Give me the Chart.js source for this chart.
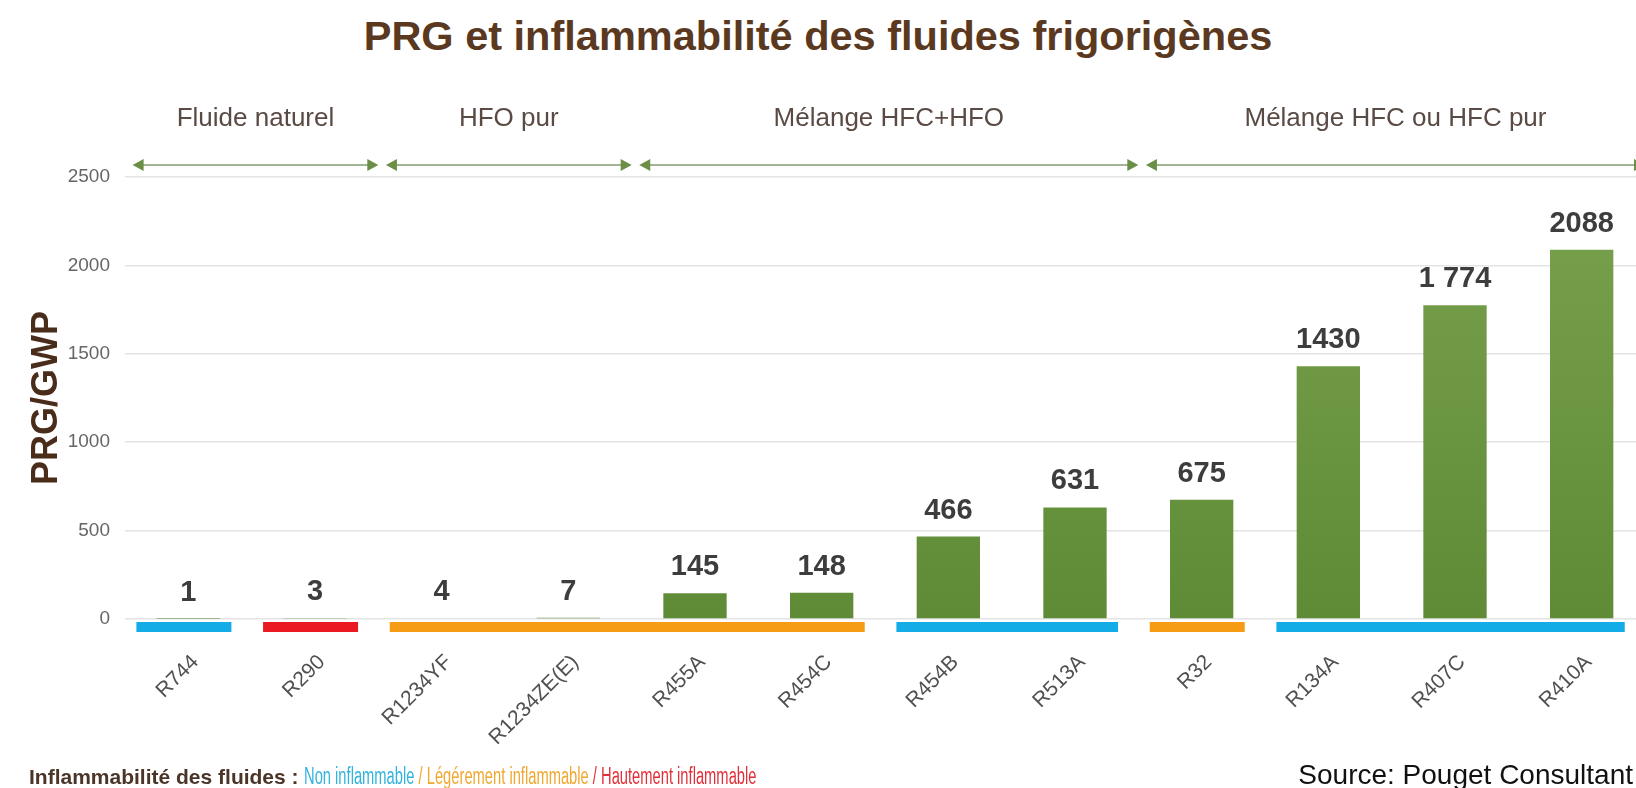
<!DOCTYPE html>
<html>
<head>
<meta charset="utf-8">
<script src="https://cdn.jsdelivr.net/npm/chart.js@4/dist/chart.umd.min.js"></script>
<style>
  html, body { margin: 0; padding: 0; background: #fff; }
  #wrap { position: relative; width: 1636px; height: 788px; overflow: hidden; background: #fff; }
  #chart { position: absolute; left: 0; top: 0; }
  .title { position: absolute; left: 0; width: 1636px; top: 14px; text-align: center;
    font: bold 41.5px 'Liberation Sans', Arial, sans-serif; color: #5a3920; line-height: 44px; }
  .footer { position: absolute; left: 29px; top: 764px; white-space: nowrap;
    font: 21px 'Liberation Sans', Arial, sans-serif; line-height: 24px; }
  .footer b { color: #4a3528; }
  .footer .cond { display: inline-block; font-size: 23px; transform: scaleX(0.64); transform-origin: 0 50%; }
  .source { position: absolute; right: 3px; top: 761px; white-space: nowrap;
    font: 28px 'Liberation Sans', Arial, sans-serif; color: #111; line-height: 28px; }
</style>
</head>
<body>
<div id="wrap">
  <div class="title">PRG et inflammabilité des fluides frigorigènes</div>
  <canvas id="chart" width="1660" height="788"></canvas>
  <div class="footer"><b>Inflammabilité des fluides : </b><span class="cond"><span style="color:#33b4dc">Non inflammable</span><span style="color:#f0a830"> / Légérement inflammable</span><span style="color:#e2303a"> / Hautement inflammable</span></span></div>
  <div class="source">Source: Pouget Consultant</div>
</div>
<script>
// data
const fluids = ['R744', 'R290', 'R1234YF', 'R1234ZE(E)', 'R455A', 'R454C', 'R454B', 'R513A', 'R32', 'R134A', 'R407C', 'R410A'];
const gwp = [1, 3, 4, 7, 145, 148, 466, 631, 675, 1430, 1774, 2088];
const gwpLabels = ['1', '3', '4', '7', '145', '148', '466', '631', '675', '1430', '1 774', '2088'];
const flammability = ['non', 'haut', 'leger', 'leger', 'leger', 'leger', 'non', 'non', 'leger', 'non', 'non', 'non'];
const groupNames = ['Fluide naturel', 'HFO pur', 'Mélange HFC+HFO', 'Mélange HFC ou HFC pur'];
const groupFirst = [0, 2, 4, 8];
const groupLast = [1, 3, 7, 11];
const yTicks = [0, 500, 1000, 1500, 2000, 2500];

const flamColors = { non: '#14ace6', leger: '#f59c14', haut: '#ea1a22' };
const sans = "'Liberation Sans', Arial, sans-serif";

// flammability bands under the zero line
const bandsPlugin = {
  id: 'bands',
  afterDatasetsDraw(chart) {
    const ctx = chart.ctx, x = chart.scales.x, y = chart.scales.y;
    const w = x.getPixelForValue(1) - x.getPixelForValue(0);
    const y0 = y.getPixelForValue(0);
    let i = 0;
    ctx.save();
    while (i < flammability.length) {
      let j = i;
      while (j + 1 < flammability.length && flammability[j + 1] === flammability[i]) j++;
      const left = x.getPixelForValue(i) - 0.41 * w;
      const right = x.getPixelForValue(j) + 0.34 * w;
      ctx.fillStyle = flamColors[flammability[i]];
      ctx.fillRect(left, y0 + 3, right - left, 10);
      i = j + 1;
    }
    ctx.restore();
  }
};

// values above the bars
const valuesPlugin = {
  id: 'values',
  afterDatasetsDraw(chart) {
    const ctx = chart.ctx, x = chart.scales.x, y = chart.scales.y;
    ctx.save();
    ctx.font = 'bold 29px ' + sans;
    ctx.fillStyle = '#3d3d3d';
    ctx.textAlign = 'center';
    ctx.textBaseline = 'alphabetic';
    gwp.forEach((v, i) => {
      ctx.fillText(gwpLabels[i], x.getPixelForValue(i), y.getPixelForValue(v) - 18);
    });
    ctx.restore();
  }
};

// group headers with double arrows
const groupsPlugin = {
  id: 'groups',
  afterDraw(chart) {
    const ctx = chart.ctx, x = chart.scales.x, y = chart.scales.y;
    const w = x.getPixelForValue(1) - x.getPixelForValue(0);
    const ay = y.top - 12;
    ctx.save();
    groupNames.forEach((name, g) => {
      const l = x.getPixelForValue(groupFirst[g]) - 0.44 * w;
      const r = x.getPixelForValue(groupLast[g]) + 0.5 * w;
      ctx.strokeStyle = '#a3b396';
      ctx.lineWidth = 2;
      ctx.beginPath();
      ctx.moveTo(l + 6, ay);
      ctx.lineTo(r - 6, ay);
      ctx.stroke();
      ctx.fillStyle = '#6b8f46';
      ctx.beginPath();
      ctx.moveTo(l, ay); ctx.lineTo(l + 11, ay - 6); ctx.lineTo(l + 11, ay + 6); ctx.closePath();
      ctx.fill();
      ctx.beginPath();
      ctx.moveTo(r, ay); ctx.lineTo(r - 11, ay - 6); ctx.lineTo(r - 11, ay + 6); ctx.closePath();
      ctx.fill();
      ctx.font = '26px ' + sans;
      ctx.fillStyle = '#5a4a44';
      ctx.textAlign = 'center';
      ctx.textBaseline = 'middle';
      ctx.fillText(name, (l + r) / 2, ay - 46);
    });
    ctx.restore();
  }
};

const ctx = document.getElementById('chart').getContext('2d');
new Chart(ctx, {
  type: 'bar',
  data: {
    labels: fluids,
    datasets: [{
      data: gwp,
      backgroundColor: (c) => {
        const area = c.chart.chartArea;
        if (!area) return '#6a9140';
        const g = c.chart.ctx.createLinearGradient(0, area.top, 0, area.bottom);
        g.addColorStop(0, '#7aa24e');
        g.addColorStop(1, '#5f8b36');
        return g;
      },
      barPercentage: 0.5,
      categoryPercentage: 1
    }]
  },
  options: {
    responsive: false,
    animation: false,
    layout: { padding: { top: 177, right: 15, left: 0, bottom: 0 } },
    plugins: { legend: { display: false }, tooltip: { enabled: false } },
    scales: {
      x: {
        grid: { display: false },
        border: { display: false },
        ticks: {
          autoSkip: false, minRotation: 45, maxRotation: 45, padding: 23, labelOffset: 7,
          color: '#505050', font: { family: sans, size: 21 }
        },
        afterFit(scale) { scale.height = 169; }
      },
      y: {
        min: 0, max: 2500,
        afterBuildTicks(scale) { scale.ticks = yTicks.map(v => ({ value: v })); },
        grid: { color: '#e4e4e4', lineWidth: 1.5, drawTicks: false },
        border: { display: false },
        ticks: {
          padding: 15, color: '#666', font: { family: sans, size: 19 },
          callback: (v) => String(v)
        },
        title: {
          display: true, text: 'PRG/GWP', color: '#4a2c1a',
          font: { family: sans, size: 36, weight: 'bold' },
          padding: { top: 25, bottom: 0 }
        },
        afterFit(scale) { scale.width = 125; }
      }
    }
  },
  plugins: [bandsPlugin, valuesPlugin, groupsPlugin]
});
</script>
</body>
</html>
